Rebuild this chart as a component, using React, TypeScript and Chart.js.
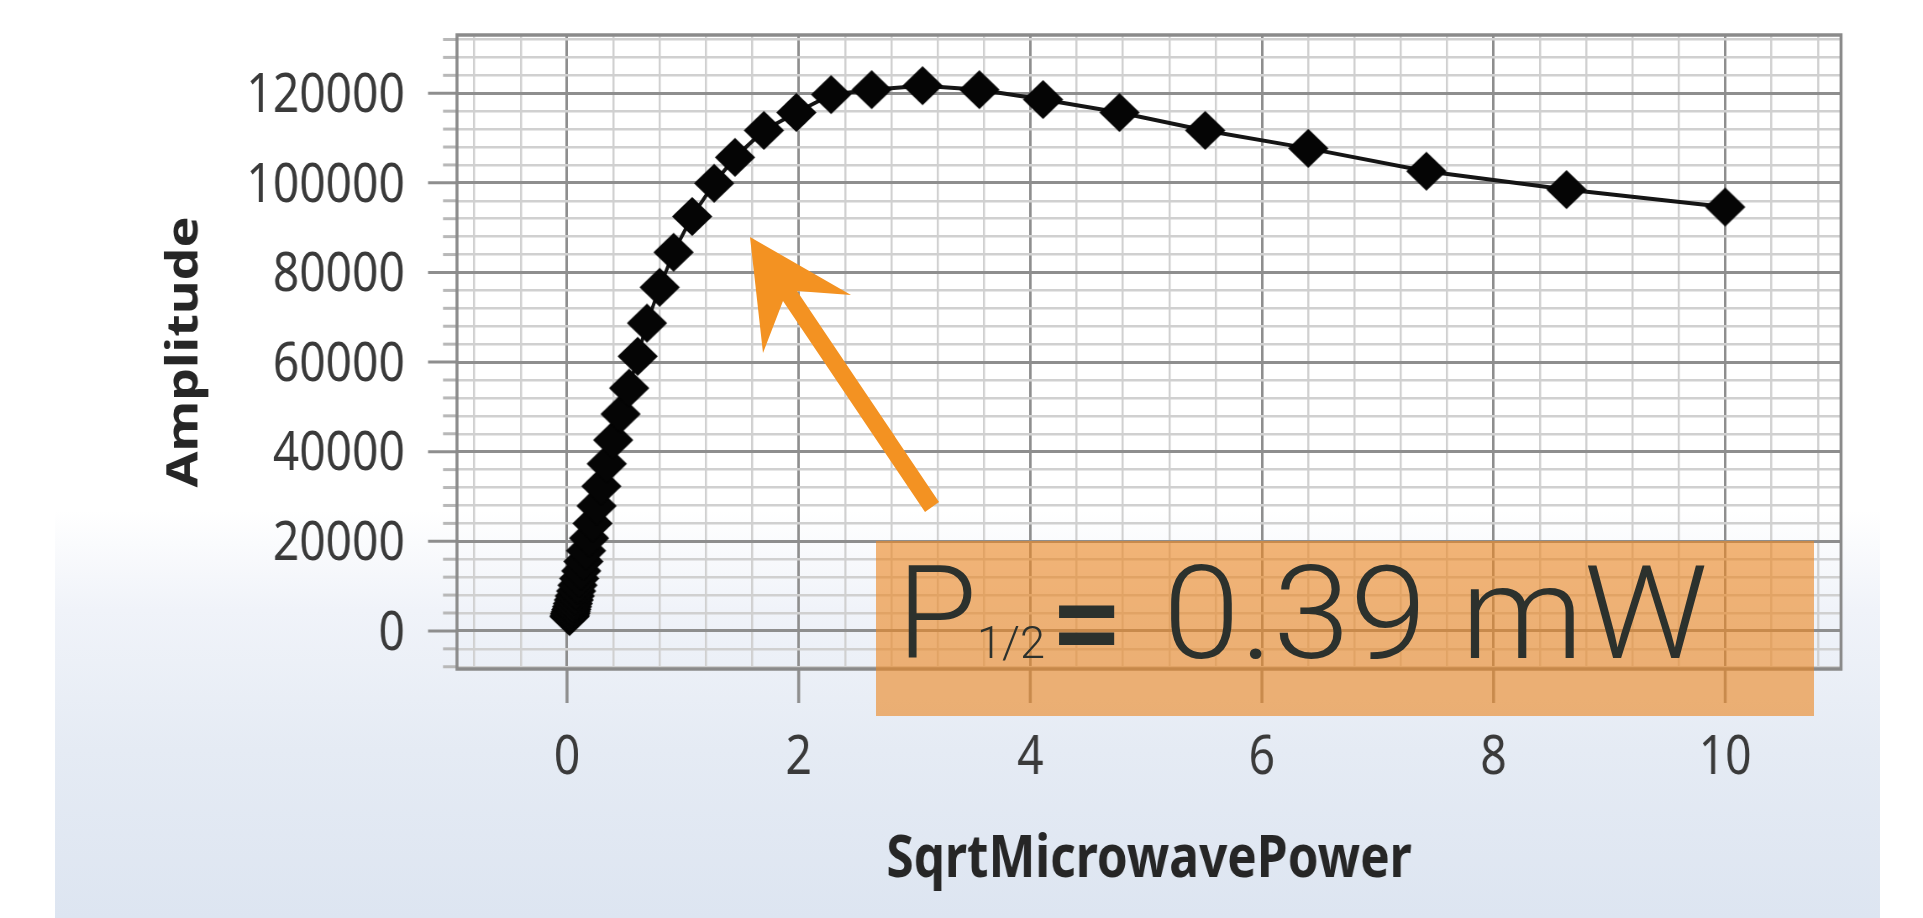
import React, { useEffect, useRef } from "react";
import { Chart, registerables } from "chart.js";

Chart.register(...registerables);

// ---------- data ----------
const X_VALUES = [
  0.021, 0.024, 0.028, 0.032, 0.037, 0.043, 0.05, 0.058, 0.067, 0.078, 0.09,
  0.105, 0.122, 0.141, 0.164, 0.19, 0.22, 0.255, 0.296, 0.343, 0.398, 0.462,
  0.536, 0.61, 0.69, 0.8, 0.92, 1.08, 1.27, 1.45, 1.7, 1.98, 2.28, 2.63, 3.07,
  3.56, 4.11, 4.77, 5.51, 6.4, 7.42, 8.63, 10.0,
];
const Y_VALUES = [
  3200, 3500, 3900, 4300, 4800, 5400, 6100, 6900, 7800, 8900, 10200,
  11700, 13400, 15500, 17900, 20700, 24000, 27900, 32300, 37300, 42600, 48400,
  54200, 61300, 68700, 76700, 84500, 92500, 99900, 105700, 111700, 115700, 119700, 120800, 121700,
  120800, 118600, 115700, 111700, 107700, 102600, 98500, 94600,
];

const X_TICK_VALUES = [0, 2, 4, 6, 8, 10];
const X_TICK_LABELS = ["0", "2", "4", "6", "8", "10"];
const Y_TICK_VALUES = [0, 20000, 40000, 60000, 80000, 100000, 120000];
const Y_TICK_LABELS = ["0", "20000", "40000", "60000", "80000", "100000", "120000"];

const X_MIN = -0.95;
const X_MAX = 11;
const Y_MIN = -8500;
const Y_MAX = 133000;
const X_MINOR_FROM = -0.8;
const X_MINOR_TO = 10.8;
const X_MINOR_STEP = 0.4;
const Y_MINOR_FROM = -8000;
const Y_MINOR_TO = 132000;
const Y_MINOR_STEP = 4000;

const X_TITLE = "SqrtMicrowavePower";
const Y_TITLE = "Amplitude";
const NOTE_MAIN = "P";
const NOTE_SUB = "1/2";
const NOTE_EQ = "=";
const NOTE_VALUE = "0.39 mW";

// ---------- layout / style ----------
const PAGE_W = 1923;
const PAGE_H = 918;
const SQUEEZE_TARGET = 0.84;
const CANVAS_W = Math.round(PAGE_W / SQUEEZE_TARGET);
const S = PAGE_W / CANVAS_W;
const PLOT_LEFT = 457;
const PLOT_RIGHT = 1841;
const PLOT_TOP = 35;
const PLOT_BOTTOM = 669;

const MAJOR_COLOR = "#8e8e8e";
const MINOR_COLOR = "#d0d0d0";
const FRAME_COLOR = "#8a8a8a";
const TICK_FONT = "'Noto Sans', 'Open Sans', sans-serif";

function steps(from: number, to: number, step: number): number[] {
  const out: number[] = [];
  const n = Math.round((to - from) / step);
  for (let i = 0; i <= n; i++) out.push(Math.round((from + i * step) * 1e6) / 1e6);
  return out;
}
const X_GRID = steps(X_MINOR_FROM, X_MINOR_TO, X_MINOR_STEP);
const Y_GRID = steps(Y_MINOR_FROM, Y_MINOR_TO, Y_MINOR_STEP);

const majorIndex = (v: number, list: number[]) =>
  list.findIndex((m) => Math.abs(m - v) < 1e-6);

const frameTicks = {
  id: "frameTicks",
  beforeDatasetsDraw(chart: any) {
    const { ctx, chartArea: a, scales } = chart;
    const xs = scales.x;
    const ys = scales.y;
    ctx.save();
    ctx.lineWidth = 3;
    for (const t of ys.ticks) {
      const major = majorIndex(t.value, Y_TICK_VALUES) >= 0;
      const py = ys.getPixelForValue(t.value);
      const len = (major ? 29 : 14) / S;
      ctx.strokeStyle = major ? MAJOR_COLOR : "#b8b8b8";
      ctx.beginPath();
      ctx.moveTo(a.left - len, py);
      ctx.lineTo(a.left, py);
      ctx.stroke();
    }
    ctx.strokeStyle = MAJOR_COLOR;
    ctx.lineWidth = 3.5;
    for (const t of xs.ticks) {
      if (majorIndex(t.value, X_TICK_VALUES) < 0) continue;
      const px = xs.getPixelForValue(t.value);
      ctx.beginPath();
      ctx.moveTo(px, a.bottom);
      ctx.lineTo(px, a.bottom + 34);
      ctx.stroke();
    }
    ctx.strokeStyle = FRAME_COLOR;
    ctx.lineWidth = 3.5;
    ctx.strokeRect(a.left, a.top, a.right - a.left, a.bottom - a.top);
    ctx.restore();
  },
};

function makeDiamond(): HTMLCanvasElement {
  const w = Math.round(40 / S);
  const h = 39;
  const c = document.createElement("canvas");
  c.width = w + 2;
  c.height = h + 2;
  const g = c.getContext("2d")!;
  g.fillStyle = "#050505";
  g.beginPath();
  g.moveTo(c.width / 2, 1);
  g.lineTo(c.width - 1, c.height / 2);
  g.lineTo(c.width / 2, c.height - 1);
  g.lineTo(1, c.height / 2);
  g.closePath();
  g.fill();
  return c;
}

export default function App() {
  const canvasRef = useRef<HTMLCanvasElement | null>(null);

  useEffect(() => {
    if (!canvasRef.current) return;
    const diamond = makeDiamond();
    const points = X_VALUES.map((x, i) => ({ x, y: Y_VALUES[i] }));
    const gridColor = (ticks: number[]) => (ctx: any) =>
      ctx.tick && majorIndex(ctx.tick.value, ticks) >= 0 ? MAJOR_COLOR : MINOR_COLOR;
    const gridWidth = (ticks: number[]) => (ctx: any) =>
      ctx.tick && majorIndex(ctx.tick.value, ticks) >= 0 ? 3 : 2.5;

    const chart = new Chart(canvasRef.current, {
      type: "line",
      data: {
        datasets: [
          {
            data: points,
            borderColor: "#151515",
            borderWidth: 4,
            pointStyle: diamond as any,
            pointRadius: 19,
            pointHoverRadius: 19,
            tension: 0,
            fill: false,
          },
        ],
      },
      options: {
        responsive: false,
        animation: false,
        devicePixelRatio: 1,
        events: [],
        layout: {
          padding: {
            left: 0,
            top: PLOT_TOP,
            right: CANVAS_W - PLOT_RIGHT / S,
            bottom: 0,
          },
        },
        plugins: {
          legend: { display: false },
          tooltip: { enabled: false },
        },
        scales: {
          x: {
            type: "linear",
            min: X_MIN,
            max: X_MAX,
            afterBuildTicks: (axis: any) => {
              axis.ticks = X_GRID.map((value) => ({ value }));
            },
            afterFit: (axis: any) => {
              axis.height = PAGE_H - PLOT_BOTTOM;
              axis.paddingLeft = 0;
              axis.paddingRight = 0;
              axis.paddingTop = 0;
              axis.paddingBottom = 0;
            },
            border: { display: false },
            grid: {
              drawTicks: false,
              color: gridColor(X_TICK_VALUES),
              lineWidth: gridWidth(X_TICK_VALUES),
            },
            ticks: {
              autoSkip: false,
              maxRotation: 0,
              padding: 56,
              color: "#3a3a3a",
              font: { family: TICK_FONT, size: 55 },
              callback: (v: any) => {
                const i = majorIndex(Number(v), X_TICK_VALUES);
                return i >= 0 ? X_TICK_LABELS[i] : "";
              },
            },
            title: {
              display: true,
              text: X_TITLE,
              color: "#262626",
              font: { family: TICK_FONT, size: 59, weight: "bold" },
              padding: { top: 0, bottom: 22 },
            },
          },
          y: {
            type: "linear",
            min: Y_MIN,
            max: Y_MAX,
            afterBuildTicks: (axis: any) => {
              axis.ticks = Y_GRID.map((value) => ({ value }));
            },
            afterFit: (axis: any) => {
              axis.width = PLOT_LEFT / S;
              axis.paddingLeft = 0;
              axis.paddingRight = 0;
              axis.paddingTop = 0;
              axis.paddingBottom = 0;
            },
            border: { display: false },
            grid: {
              drawTicks: false,
              color: gridColor(Y_TICK_VALUES),
              lineWidth: gridWidth(Y_TICK_VALUES),
            },
            ticks: {
              autoSkip: false,
              padding: 62,
              labelOffset: 3,
              color: "#3a3a3a",
              font: { family: TICK_FONT, size: 55 },
              callback: (v: any) => {
                const i = majorIndex(Number(v), Y_TICK_VALUES);
                return i >= 0 ? Y_TICK_LABELS[i] : "";
              },
            },
            title: {
              display: true,
              text: Y_TITLE,
              color: "#262626",
              font: { family: TICK_FONT, size: 52, weight: "bold" },
              padding: { top: 189, bottom: 0 },
            },
          },
        },
      },
      plugins: [frameTicks],
    } as any);

    return () => chart.destroy();
  }, []);

  return (
    <div
      style={{
        position: "fixed",
        left: 0,
        top: 0,
        width: PAGE_W,
        height: PAGE_H,
        overflow: "hidden",
        background: "#ffffff",
      }}
    >
      <div
        style={{
          position: "absolute",
          left: 55,
          top: 0,
          width: 1825,
          height: PAGE_H,
          background:
            "linear-gradient(180deg, #ffffff 0px, #ffffff 510px, #f0f3f9 610px, #e5ebf4 750px, #dde5f1 918px)",
        }}
      />
      <div
        style={{
          position: "absolute",
          left: 0,
          top: 0,
          width: CANVAS_W,
          height: PAGE_H,
          transform: `scaleX(${S})`,
          transformOrigin: "0 0",
        }}
      >
        <canvas ref={canvasRef} width={CANVAS_W} height={PAGE_H} style={{ display: "block" }} />
      </div>
      <svg
        width={PAGE_W}
        height={PAGE_H}
        style={{ position: "absolute", left: 0, top: 0, pointerEvents: "none" }}
      >
        <rect x={876} y={541} width={938} height={175} fill="rgba(236,136,36,0.62)" />
        <polygon
          points="750,237 851,295 797,291 939,502 925,512 783,301 763,353"
          fill="#F39222"
        />
        <g fill="#2c312d" fontFamily="Roboto, 'Noto Sans', sans-serif">
          <text x={897} y={658} fontSize={130} fontWeight={300}>
            {NOTE_MAIN}
          </text>
          <text x={977} y={658} fontSize={44} fontWeight={300} textLength={68} lengthAdjust="spacingAndGlyphs">
            {NOTE_SUB}
          </text>
          <text x={1050} y={668} fontSize={130} fontWeight={500}>
            {NOTE_EQ}
          </text>
          <text x={1163} y={658} fontSize={130} fontWeight={300} textLength={545} lengthAdjust="spacingAndGlyphs">
            {NOTE_VALUE}
          </text>
        </g>
      </svg>
    </div>
  );
}
